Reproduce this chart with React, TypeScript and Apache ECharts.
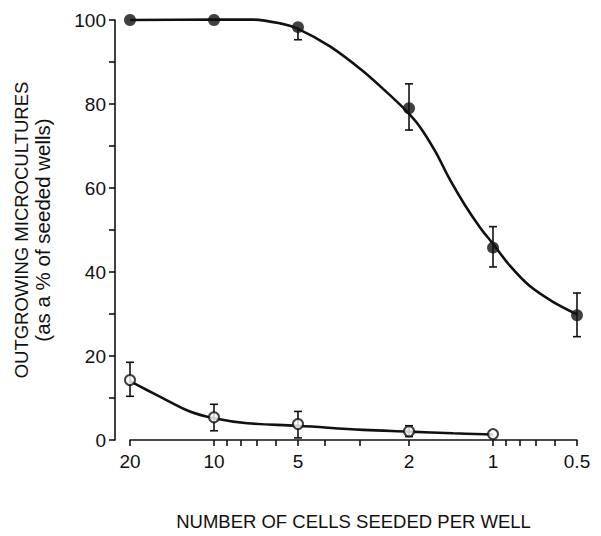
import React, { useEffect, useRef } from "react";
import * as echarts from "echarts";

// Cells seeded per well (x, log scale, reversed)
const cellCounts = [20, 10, 5, 2, 1, 0.5];
// Filled circles
const filledMean = [100, 100, 98.3, 79.0, 45.8, 29.7];
const filledLow = [100, 100, 95.3, 73.8, 41.2, 24.6];
const filledHigh = [100, 100, 98.3, 84.8, 50.8, 35.0];
// Open circles
const openCounts = [20, 10, 5, 2, 1];
const openMean = [14.3, 5.4, 3.8, 2.1, 1.4];
const openLow = [10.4, 2.2, 0.5, 0.8, 1.4];
const openHigh = [18.5, 8.5, 6.8, 3.4, 1.4];
// Fitted curves
const fitFilledX = [20, 10, 7.24, 5.8, 5.04, 3.84, 2.92, 2.44, 2.07, 1.83, 1.61, 1.43, 1.26, 1.11, 1.0, 0.87, 0.74, 0.61, 0.5];
const fitFilledY = [100, 100.1, 100.1, 99.2, 98.0, 93.7, 87.8, 83.2, 78.7, 74.6, 68.7, 62.1, 55.9, 50.5, 46.7, 41.5, 36.7, 32.9, 29.9];
const fitOpenX = [20, 17.4, 14.8, 12.2, 10, 7.6, 5, 2.92, 2, 1.39, 1];
const fitOpenY = [14, 11.9, 9.5, 6.8, 5.2, 4.0, 3.4, 2.4, 2.0, 1.6, 1.3];
// Axis ticks
const xTickLabels = [20, 10, 5, 2, 1, 0.5];
const xTickMarks = [20, 10, 9, 8, 7, 6, 5, 4, 3, 2, 1, 0.9, 0.8, 0.7, 0.6, 0.5];

const INK = "#111";
const FONT = "Liberation Sans, Arial, Helvetica, sans-serif";

export default function App() {
  const ref = useRef<HTMLDivElement>(null);
  useEffect(() => {
    document.body.style.margin = "0";
    if (!ref.current) return;
    const chart = echarts.init(ref.current, undefined, { renderer: "svg" });

    const errRender = (params: any, api: any) => {
      const x = api.value(0);
      const lo = api.value(1);
      const hi = api.value(2);
      const v = api.value(3);
      const pLo = api.coord([x, lo]);
      const pHi = api.coord([x, hi]);
      const w = 4;
      const st = { stroke: INK, lineWidth: 1.6 };
      const children: any[] = [];
      if (hi > lo) {
        children.push({ type: "line", shape: { x1: pLo[0], y1: pLo[1], x2: pHi[0], y2: pHi[1] }, style: st });
      }
      if (lo < v) children.push({ type: "line", shape: { x1: pLo[0] - w, y1: pLo[1], x2: pLo[0] + w, y2: pLo[1] }, style: st });
      if (hi > v) children.push({ type: "line", shape: { x1: pHi[0] - w, y1: pHi[1], x2: pHi[0] + w, y2: pHi[1] }, style: st });
      return { type: "group", children };
    };

    chart.setOption({
      animation: false,
      backgroundColor: "#fff",
      textStyle: { fontFamily: FONT, color: INK },
      grid: { left: 130, right: 24, top: 20, bottom: 95, containLabel: false },
      xAxis: {
        type: "log",
        logBase: 10,
        min: 0.5,
        max: 20,
        inverse: true,
        name: "NUMBER OF CELLS SEEDED PER WELL",
        nameLocation: "middle",
        nameGap: 72,
        nameTextStyle: { fontSize: 18.5, color: INK, fontFamily: FONT },
        axisLine: { show: true, lineStyle: { color: INK, width: 1.6 } },
        axisTick: { show: true, inside: false, length: 6, customValues: xTickMarks, lineStyle: { color: INK, width: 1.6 } },
        axisLabel: {
          show: true,
          customValues: xTickLabels,
          margin: 12,
          fontSize: 19,
          color: INK,
          fontFamily: FONT,
          formatter: (v: number) => String(Math.round(v * 10) / 10),
        },
        splitLine: { show: false },
        minorTick: { show: false },
      },
      yAxis: {
        type: "value",
        min: 0,
        max: 100,
        interval: 20,
        offset: 15,
        name: "{a|OUTGROWING MICROCULTURES}\n{b|(as a % of seeded wells)}",
        nameLocation: "middle",
        nameGap: 62,
        nameRotate: 90,
        nameTextStyle: {
          color: INK,
          fontFamily: FONT,
          align: "center",
          rich: {
            a: { fontSize: 18.5, fontFamily: FONT, color: INK, lineHeight: 21 },
            b: { fontSize: 20.5, fontFamily: FONT, color: INK, lineHeight: 21 },
          },
        },
        axisLine: { show: true, lineStyle: { color: INK, width: 1.6 } },
        axisTick: { show: true, inside: false, length: 6, lineStyle: { color: INK, width: 1.6 } },
        minorTick: { show: true, splitNumber: 2, length: 6, lineStyle: { color: INK, width: 1.6 } },
        axisLabel: { margin: 9, fontSize: 19, color: INK, fontFamily: FONT },
        splitLine: { show: false },
      },
      series: [
        {
          type: "line",
          data: fitFilledX.map((x, i) => [x, fitFilledY[i]]),
          smooth: 0.3,
          showSymbol: false,
          symbol: "none",
          clip: false,
          lineStyle: { color: INK, width: 2.6 },
          z: 2,
        },
        {
          type: "line",
          data: fitOpenX.map((x, i) => [x, fitOpenY[i]]),
          smooth: 0.4,
          showSymbol: false,
          symbol: "none",
          clip: false,
          lineStyle: { color: INK, width: 2.6 },
          z: 2,
        },
        {
          type: "custom",
          renderItem: errRender,
          data: cellCounts.map((x, i) => [x, filledLow[i], filledHigh[i], filledMean[i]]),
          encode: { x: 0, y: [1, 2] },
          clip: false,
          z: 3,
        },
        {
          type: "custom",
          renderItem: errRender,
          data: openCounts.map((x, i) => [x, openLow[i], openHigh[i], openMean[i]]),
          encode: { x: 0, y: [1, 2] },
          clip: false,
          z: 3,
        },
        {
          type: "scatter",
          data: cellCounts.map((x, i) => [x, filledMean[i]]),
          symbol: "circle",
          symbolSize: 12,
          clip: false,
          itemStyle: { color: INK },
          z: 5,
        },
        {
          type: "scatter",
          data: openCounts.map((x, i) => [x, openMean[i]]),
          symbol: "circle",
          symbolSize: 10,
          clip: false,
          itemStyle: { color: "#fff", borderColor: INK, borderWidth: 2 },
          z: 5,
        },
      ],
    });
    return () => chart.dispose();
  }, []);
  return <div ref={ref} style={{ width: 601, height: 536 }} />;
}
